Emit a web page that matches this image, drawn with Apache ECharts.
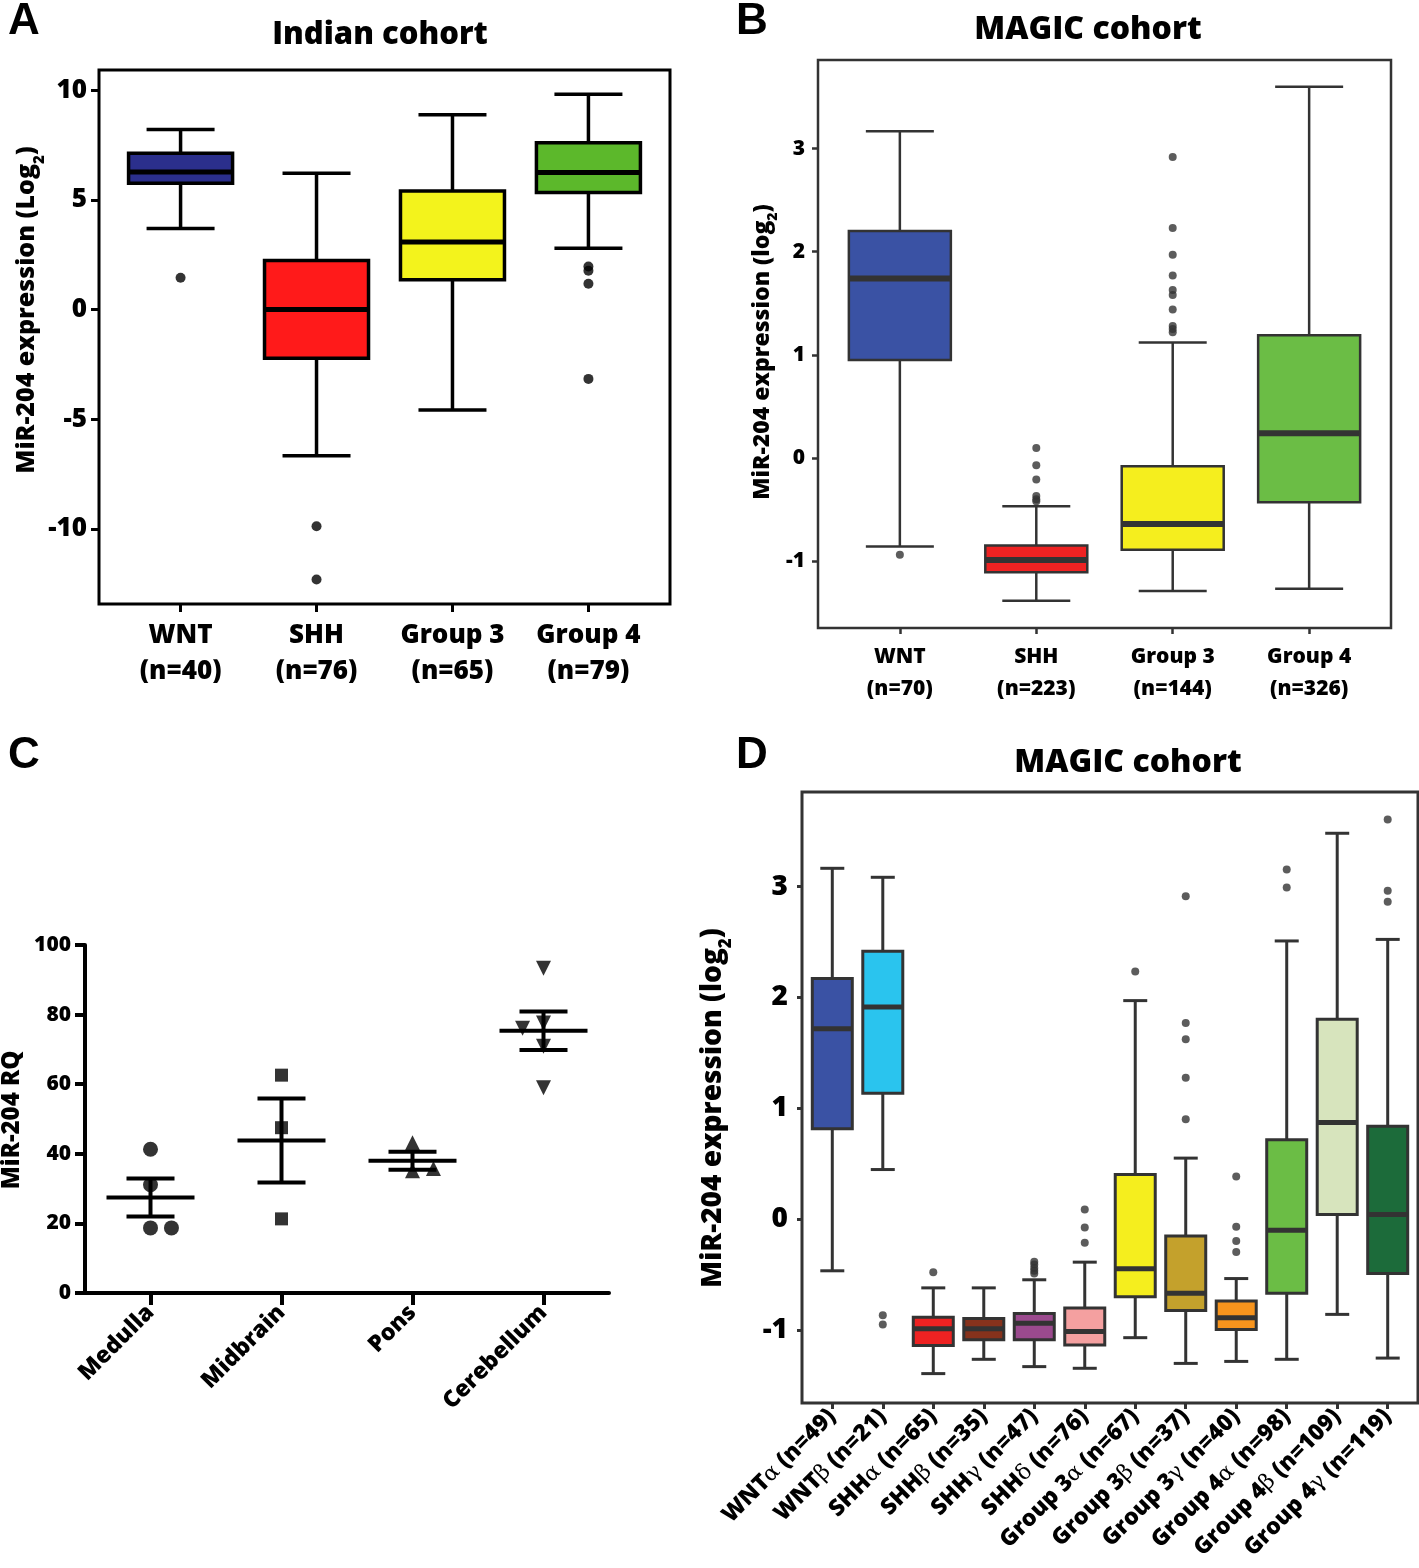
<!DOCTYPE html>
<html>
<head>
<meta charset="utf-8">
<script src="https://cdn.jsdelivr.net/npm/echarts@6/dist/echarts.min.js"></script>
<style>
html, body { margin: 0; padding: 0; background: #fff; }
#main { width: 1419px; height: 1568px; }
</style>
</head>
<body>
<div id="main"></div>
<script>
var FONT = '"Open Sans", "Noto Sans", sans-serif';
var WEIGHT = 800;

// ---------- A : Indian cohort ----------
var catsA = ['WNT\n(n=40)', 'SHH\n(n=76)', 'Group 3\n(n=65)', 'Group 4\n(n=79)'];
// low whisker, Q1, median, Q3, high whisker
var boxA = [
    [3.69, 5.76, 6.27, 7.13, 8.21],
    [-6.66, -2.22, 0, 2.24, 6.21],
    [-4.58, 1.36, 3.08, 5.40, 8.88],
    [2.79, 5.34, 6.25, 7.60, 9.82]
];
var outA = [[1.45], [-9.88, -12.3], [], [1.96, 1.77, 1.18, -3.16]];
var colorsA = ['#2b2f8c', '#ff1a1a', '#f3f31c', '#5cb82b'];
var ticksA = [-10, -5, 0, 5, 10];

// ---------- B : MAGIC cohort ----------
var catsB = ['WNT\n(n=70)', 'SHH\n(n=223)', 'Group 3\n(n=144)', 'Group 4\n(n=326)'];
var boxB = [
    [-0.86, 0.95, 1.74, 2.20, 3.17],
    [-1.385, -1.11, -0.99, -0.85, -0.47],
    [-1.29, -0.89, -0.64, -0.08, 1.12],
    [-1.27, -0.43, 0.24, 1.19, 3.60]
];
var outB = [
    [-0.94],
    [0.095, -0.07, -0.21, -0.37, -0.40, -0.42],
    [2.92, 2.23, 1.97, 1.77, 1.63, 1.58, 1.44, 1.28, 1.25, 1.22],
    []
];
var colorsB = ['#3a52a4', '#ee2222', '#f5ee1e', '#6bbd45'];
var ticksB = [-1, 0, 1, 2, 3];

// ---------- C : brain regions ----------
var catsC = ['Medulla', 'Midbrain', 'Pons', 'Cerebellum'];
var pointsC = [
    [41.3, 31.1, 18.7, 18.7],
    [62.6, 47.5, 21.3],
    [43.2, 35.1, 35.8],
    [93.3, 77.6, 76.1, 70.9, 59.0]
];
var jitterC = [
    [0, 0, 0, 0.16],
    [0, 0, 0],
    [0, 0, 0.16],
    [0, 0, -0.16, 0, 0]
];
var symbolsC = ['circle', 'rect', 'triangle', 'triangle'];

// ---------- D : MAGIC subgroups ----------
var catsD = ['WNTα (n=49)', 'WNTβ (n=21)', 'SHHα (n=65)', 'SHHβ (n=35)', 'SHHγ (n=47)', 'SHHδ (n=76)',
    'Group 3α (n=67)', 'Group 3β (n=37)', 'Group 3γ (n=40)', 'Group 4α (n=98)', 'Group 4β (n=109)', 'Group 4γ (n=119)'];
var boxD = [
    [-0.464, 0.817, 1.718, 2.171, 3.165],
    [0.449, 1.137, 1.914, 2.418, 3.084],
    [-1.391, -1.137, -0.986, -0.883, -0.618],
    [-1.262, -1.086, -0.986, -0.894, -0.618],
    [-1.328, -1.086, -0.938, -0.850, -0.545],
    [-1.343, -1.133, -1.012, -0.799, -0.386],
    [-1.067, -0.699, -0.445, 0.405, 1.972],
    [-1.299, -0.821, -0.666, -0.151, 0.552],
    [-1.281, -0.994, -0.887, -0.736, -0.534],
    [-1.262, -0.666, -0.099, 0.718, 2.510],
    [-0.857, 0.044, 0.872, 1.803, 3.481],
    [-1.251, -0.489, 0.044, 0.839, 2.524]
];
var outD = [
    [],
    [-0.865, -0.949],
    [-0.478],
    [],
    [-0.383, -0.408, -0.438, -0.464, -0.489],
    [0.088, -0.074, -0.210],
    [2.234],
    [2.914, 1.770, 1.623, 1.277, 0.902],
    [0.386, -0.066, -0.195, -0.294],
    [3.154, 2.992],
    [],
    [3.606, 2.962, 2.863]
];
var colorsD = ['#3a52a4', '#2ac4ee', '#ee2222', '#86321c', '#9b4a8e', '#f4a0a0',
    '#f5ee1e', '#c4a12c', '#f7941d', '#6bbd45', '#d7e4bd', '#1c6b3a'];
var ticksD = [-1, 0, 1, 2, 3];

function idx(n) {
    var a = [];
    for (var i = 1; i <= n; i++) a.push(i);
    return a;
}

function boxData(stats) {
    return stats.map(function (s, i) { return [i + 1].concat(s); });
}

function outData(outs) {
    var d = [];
    outs.forEach(function (vals, i) {
        vals.forEach(function (v) { d.push([i + 1, v]); });
    });
    return d;
}

// box + whiskers drawn through the axis scales
function boxRender(opt) {
    return function (params, api) {
        var x = api.value(0);
        var lo = api.coord([x, api.value(1)]);
        var q1 = api.coord([x, api.value(2)]);
        var md = api.coord([x, api.value(3)]);
        var q3 = api.coord([x, api.value(4)]);
        var hi = api.coord([x, api.value(5)]);
        var cx = lo[0], hw = opt.box / 2, cw = opt.cap / 2;
        var ls = { stroke: opt.line, lineWidth: opt.lw };
        return {
            type: 'group',
            children: [
                { type: 'line', shape: { x1: cx, y1: hi[1], x2: cx, y2: q3[1] }, style: ls },
                { type: 'line', shape: { x1: cx, y1: q1[1], x2: cx, y2: lo[1] }, style: ls },
                { type: 'line', shape: { x1: cx - cw, y1: hi[1], x2: cx + cw, y2: hi[1] }, style: ls },
                { type: 'line', shape: { x1: cx - cw, y1: lo[1], x2: cx + cw, y2: lo[1] }, style: ls },
                { type: 'rect', shape: { x: cx - hw, y: q3[1], width: 2 * hw, height: q1[1] - q3[1] },
                  style: { fill: opt.colors[params.dataIndex], stroke: opt.line, lineWidth: opt.lw } },
                { type: 'line', shape: { x1: cx - hw, y1: md[1], x2: cx + hw, y2: md[1] },
                  style: { stroke: opt.line, lineWidth: opt.mw } }
            ]
        };
    };
}

// mean +/- SEM for panel C
function meanSem(vals) {
    var n = vals.length, m = 0, s = 0;
    vals.forEach(function (v) { m += v; });
    m /= n;
    vals.forEach(function (v) { s += (v - m) * (v - m); });
    return [m, Math.sqrt(s / (n - 1)) / Math.sqrt(n)];
}

function semRender(params, api) {
    var x = api.value(0), m = api.value(1), se = api.value(2);
    var pm = api.coord([x, m]), pt = api.coord([x, m + se]), pb = api.coord([x, m - se]);
    var cx = pm[0];
    var st = { stroke: '#000', lineWidth: 4 };
    return {
        type: 'group',
        children: [
            { type: 'line', shape: { x1: cx, y1: pt[1], x2: cx, y2: pb[1] }, style: st },
            { type: 'line', shape: { x1: cx - 44, y1: pm[1], x2: cx + 44, y2: pm[1] }, style: st },
            { type: 'line', shape: { x1: cx - 24, y1: pt[1], x2: cx + 24, y2: pt[1] }, style: st },
            { type: 'line', shape: { x1: cx - 24, y1: pb[1], x2: cx + 24, y2: pb[1] }, style: st }
        ]
    };
}

var dataC = [];
pointsC.forEach(function (vals, i) {
    vals.forEach(function (v, j) { dataC.push({ value: [i + 1 + jitterC[i][j], v], sym: i }); });
});
var semC = pointsC.map(function (vals, i) { return [i + 1].concat(meanSem(vals)); });

function greek(s) {
    return s.replace(/[αβγδ]/g, function (c) { return '{g|' + c + '}'; });
}

var labelBase = { fontFamily: FONT, fontWeight: WEIGHT, color: '#000' };

function ext(o, p) {
    var r = {};
    for (var k in o) r[k] = o[k];
    for (var k2 in p) r[k2] = p[k2];
    return r;
}

var noLine = { show: false, onZero: false };

var chart = echarts.init(document.getElementById('main'));

var option = {
    backgroundColor: '#fff',
    animation: false,
    grid: [
        { left: 99, top: 70, width: 571, height: 534, show: true, borderColor: '#000', borderWidth: 3 },
        { left: 818, top: 60, width: 573, height: 568, show: true, borderColor: '#333', borderWidth: 2.5 },
        { left: 85, top: 945, width: 524, height: 348 },
        { left: 802, top: 792, width: 616, height: 611, show: true, borderColor: '#333', borderWidth: 3 }
    ],
    xAxis: [
        {
            gridIndex: 0, type: 'value', min: 0.4, max: 4.6,
            axisLine: noLine, splitLine: { show: false },
            axisTick: { show: true, customValues: idx(4), length: 8, lineStyle: { color: '#000', width: 3 } },
            axisLabel: ext(labelBase, { customValues: idx(4), fontSize: 26, lineHeight: 36, margin: 14,
                formatter: function (v) { return catsA[Math.round(v) - 1]; } })
        },
        {
            gridIndex: 1, type: 'value', min: 0.4, max: 4.6,
            axisLine: noLine, splitLine: { show: false },
            axisTick: { show: true, customValues: idx(4), length: 6, lineStyle: { color: '#333', width: 2.5 } },
            axisLabel: ext(labelBase, { customValues: idx(4), fontSize: 21, lineHeight: 32, margin: 13,
                formatter: function (v) { return catsB[Math.round(v) - 1]; } })
        },
        {
            gridIndex: 2, type: 'value', min: 0.5, max: 4.5,
            axisLine: { show: true, onZero: false, lineStyle: { color: '#000', width: 4 } }, splitLine: { show: false },
            axisTick: { show: true, customValues: idx(4), length: 12, lineStyle: { color: '#000', width: 4 } },
            axisLabel: ext(labelBase, { customValues: idx(4), fontSize: 23, rotate: 45, margin: 16,
                formatter: function (v) { return catsC[Math.round(v) - 1]; } })
        },
        {
            gridIndex: 3, type: 'value', min: 0.4, max: 12.6,
            axisLine: noLine, splitLine: { show: false },
            axisTick: { show: true, customValues: idx(12), length: 6, lineStyle: { color: '#333', width: 3 } },
            axisLabel: ext(labelBase, { customValues: idx(12), fontSize: 23, rotate: 45, margin: 10,
                formatter: function (v) { return greek(catsD[Math.round(v) - 1]); },
                rich: { g: { fontFamily: '"DejaVu Serif", serif', fontWeight: 'normal', fontSize: 22, color: '#000' } } })
        }
    ],
    yAxis: [
        {
            gridIndex: 0, type: 'value', min: -13.42, max: 10.92,
            axisLine: noLine, splitLine: { show: false },
            axisTick: { show: true, customValues: ticksA, length: 8, lineStyle: { color: '#000', width: 3 } },
            axisLabel: ext(labelBase, { customValues: ticksA, fontSize: 26, margin: 12 })
        },
        {
            gridIndex: 1, type: 'value', min: -1.65, max: 3.86,
            axisLine: noLine, splitLine: { show: false },
            axisTick: { show: true, customValues: ticksB, length: 6, lineStyle: { color: '#333', width: 2.5 } },
            axisLabel: ext(labelBase, { customValues: ticksB, fontSize: 21, margin: 13 })
        },
        {
            gridIndex: 2, type: 'value', min: 0, max: 100, interval: 20,
            axisLine: { show: true, onZero: false, lineStyle: { color: '#000', width: 4 } }, splitLine: { show: false },
            axisTick: { show: true, length: 10, lineStyle: { color: '#000', width: 4 } },
            axisLabel: ext(labelBase, { fontSize: 21, margin: 14 })
        },
        {
            gridIndex: 3, type: 'value', min: -1.656, max: 3.853,
            axisLine: noLine, splitLine: { show: false },
            axisTick: { show: true, customValues: ticksD, length: 5, lineStyle: { color: '#333', width: 3 } },
            axisLabel: ext(labelBase, { customValues: ticksD, fontSize: 28, margin: 14 })
        }
    ],
    series: [
        { type: 'custom', xAxisIndex: 0, yAxisIndex: 0, data: boxData(boxA), encode: { x: 0, y: [1, 2, 3, 4, 5] },
          renderItem: boxRender({ box: 104, cap: 68, line: '#000', lw: 3.5, mw: 5, colors: colorsA }) },
        { type: 'scatter', xAxisIndex: 0, yAxisIndex: 0, data: outData(outA), symbolSize: 10,
          itemStyle: { color: '#000' } },
        { type: 'custom', xAxisIndex: 1, yAxisIndex: 1, data: boxData(boxB), encode: { x: 0, y: [1, 2, 3, 4, 5] },
          renderItem: boxRender({ box: 102, cap: 68, line: '#333', lw: 2.5, mw: 6, colors: colorsB }) },
        { type: 'scatter', xAxisIndex: 1, yAxisIndex: 1, data: outData(outB), symbolSize: 8,
          itemStyle: { color: '#333' } },
        { type: 'custom', xAxisIndex: 2, yAxisIndex: 2, data: semC, encode: { x: 0, y: 1 },
          renderItem: semRender },
        { type: 'scatter', xAxisIndex: 2, yAxisIndex: 2, data: dataC,
          symbol: function (v, p) { return symbolsC[p.data.sym]; },
          symbolRotate: function (v, p) { return p.data.sym === 3 ? 180 : 0; },
          symbolSize: function (v, p) { return p.data.sym === 1 ? 13 : 15; },
          itemStyle: { color: '#000' } },
        { type: 'custom', xAxisIndex: 3, yAxisIndex: 3, data: boxData(boxD), encode: { x: 0, y: [1, 2, 3, 4, 5] },
          renderItem: boxRender({ box: 40, cap: 24, line: '#333', lw: 3, mw: 5, colors: colorsD }) },
        { type: 'scatter', xAxisIndex: 3, yAxisIndex: 3, data: outData(outD), symbolSize: 8,
          itemStyle: { color: '#333' } }
    ],
    graphic: [
        { type: 'text', x: 8, y: 0, style: { text: 'A', font: 'bold 44px "Liberation Sans", Arial, sans-serif', fill: '#000' } },
        { type: 'text', x: 736, y: 0, style: { text: 'B', font: 'bold 44px "Liberation Sans", Arial, sans-serif', fill: '#000' } },
        { type: 'text', x: 8, y: 734, style: { text: 'C', font: 'bold 44px "Liberation Sans", Arial, sans-serif', fill: '#000' } },
        { type: 'text', x: 736, y: 734, style: { text: 'D', font: 'bold 44px "Liberation Sans", Arial, sans-serif', fill: '#000' } },
        { type: 'text', x: 380, y: 35, style: { text: 'Indian cohort', font: WEIGHT + ' 31px ' + FONT, fill: '#000', align: 'center', verticalAlign: 'middle' } },
        { type: 'text', x: 1088, y: 30, style: { text: 'MAGIC cohort', font: WEIGHT + ' 32px ' + FONT, fill: '#000', align: 'center', verticalAlign: 'middle' } },
        { type: 'text', x: 1128, y: 763, style: { text: 'MAGIC cohort', font: WEIGHT + ' 32px ' + FONT, fill: '#000', align: 'center', verticalAlign: 'middle' } },
        { type: 'text', x: 27, y: 310, rotation: Math.PI / 2,
          style: { text: 'MiR-204 expression (Log{s|2})', font: WEIGHT + ' 25px ' + FONT, fill: '#000', align: 'center', verticalAlign: 'middle',
                   rich: { s: { fontSize: 15, fontWeight: WEIGHT, fontFamily: FONT, verticalAlign: 'bottom', lineHeight: 40 } } } },
        { type: 'text', x: 762, y: 352, rotation: Math.PI / 2,
          style: { text: 'MiR-204 expression (log{s|2})', font: WEIGHT + ' 23px ' + FONT, fill: '#000', align: 'center', verticalAlign: 'middle',
                   rich: { s: { fontSize: 14, fontWeight: WEIGHT, fontFamily: FONT, verticalAlign: 'bottom', lineHeight: 36 } } } },
        { type: 'text', x: 12, y: 1120, rotation: Math.PI / 2,
          style: { text: 'MiR-204 RQ', font: WEIGHT + ' 24px ' + FONT, fill: '#000', align: 'center', verticalAlign: 'middle' } },
        { type: 'text', x: 713, y: 1108, rotation: Math.PI / 2,
          style: { text: 'MiR-204 expression (log{s|2})', font: WEIGHT + ' 28px ' + FONT, fill: '#000', align: 'center', verticalAlign: 'middle',
                   rich: { s: { fontSize: 17, fontWeight: WEIGHT, fontFamily: FONT, verticalAlign: 'bottom', lineHeight: 44 } } } }
    ]
};

chart.setOption(option);
</script>
</body>
</html>
